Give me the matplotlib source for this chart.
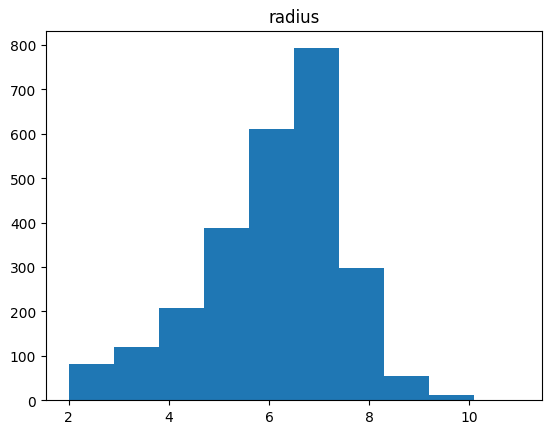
import matplotlib
matplotlib.use('Agg')
import matplotlib.pyplot as plt
import numpy as np

# histogram of radius, 10 bins between 2 and 11
bin_edges = np.linspace(2, 11, 11)
counts = [81, 119, 207, 387, 610, 792, 297, 55, 12, 1]

fig = plt.figure(figsize=(5.55, 4.35), dpi=100)
ax = fig.add_axes([46 / 555, 33.7 / 435, 496 / 555, 369.6 / 435])
ax.hist(bin_edges[:-1], bins=bin_edges, weights=counts, color='#1f77b4')
ax.set_title('radius')
fig.savefig('out.png', dpi=100)
